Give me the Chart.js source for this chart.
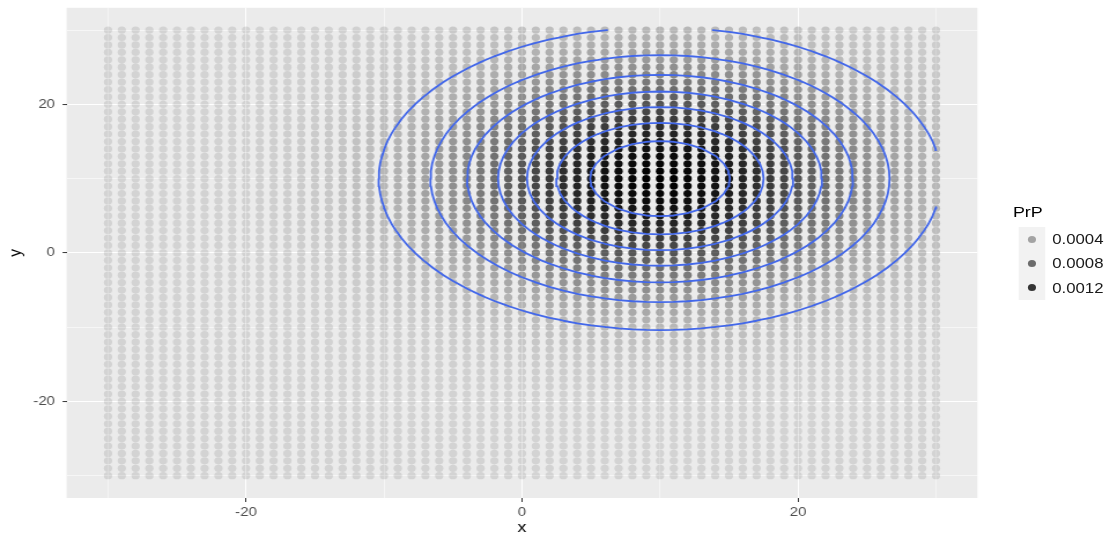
<!DOCTYPE html>
<html>
<head>
<meta charset="utf-8">
<title>PrP</title>
<script src="https://cdn.jsdelivr.net/npm/chart.js@4.4.1/dist/chart.umd.min.js"></script>
<style>
  html, body { margin: 0; padding: 0; background: #ffffff; overflow: hidden; }
  /* the plot is laid out 960 wide and stretched out to the 1110 px window */
  #stage { position: absolute; left: 0; top: 0; width: 960px; height: 536px;
           transform: scaleX(1.15625); transform-origin: 0 0; }
  #chart { position: absolute; left: 0; top: 0; width: 960px; height: 536px; }
  #legend { position: absolute; left: 0; top: 0; font-family: "Liberation Sans", Arial, sans-serif; }
  .lg-title { position: absolute; left: 876px; top: 203px; font-size: 15.5px; line-height: 18px; color: #000; }
  .lg-key { position: absolute; left: 881px; width: 22.5px; height: 24.3px; background: #f2f2f2; }
  .lg-dot { position: absolute; left: 7.65px; top: 8.55px; width: 7.2px; height: 7.2px; border-radius: 50%; }
  .lg-label { position: absolute; left: 910px; font-size: 14.5px; line-height: 24.3px; color: #1a1a1a; }
</style>
</head>
<body>
<div id="stage">
  <canvas id="chart" width="960" height="536"></canvas>
  <div id="legend"></div>
</div>
<script>
// grid of evaluation points
const gridX = [-30, -29, -28, -27, -26, -25, -24, -23, -22, -21, -20, -19, -18, -17, -16, -15, -14, -13, -12, -11,
  -10, -9, -8, -7, -6, -5, -4, -3, -2, -1, 0, 1, 2, 3, 4, 5, 6, 7, 8, 9, 10, 11, 12, 13, 14, 15, 16, 17, 18, 19,
  20, 21, 22, 23, 24, 25, 26, 27, 28, 29, 30];
const gridY = [-30, -29, -28, -27, -26, -25, -24, -23, -22, -21, -20, -19, -18, -17, -16, -15, -14, -13, -12, -11,
  -10, -9, -8, -7, -6, -5, -4, -3, -2, -1, 0, 1, 2, 3, 4, 5, 6, 7, 8, 9, 10, 11, 12, 13, 14, 15, 16, 17, 18, 19,
  20, 21, 22, 23, 24, 25, 26, 27, 28, 29, 30];

// marginal densities along each axis (peak at 10); PrP = densityX * densityY
const densityX = [0.0000134, 0.0000199, 0.0000292, 0.0000425, 0.0000612, 0.0000873, 0.000123, 0.000172, 0.000238, 0.000327,
  0.000443, 0.000595, 0.000792, 0.001042, 0.001358, 0.001753, 0.002239, 0.002833, 0.003547, 0.004398,
  0.005399, 0.006562, 0.007895, 0.009405, 0.011092, 0.012952, 0.014973, 0.017137, 0.019419, 0.021785,
  0.024197, 0.026609, 0.028969, 0.031225, 0.033322, 0.035207, 0.036827, 0.038139, 0.039104, 0.039695,
  0.039894, 0.039695, 0.039104, 0.038139, 0.036827, 0.035207, 0.033322, 0.031225, 0.028969, 0.026609,
  0.024197, 0.021785, 0.019419, 0.017137, 0.014973, 0.012952, 0.011092, 0.009405, 0.007895, 0.006562, 0.005399];
const densityY = [0.0000134, 0.0000199, 0.0000292, 0.0000425, 0.0000612, 0.0000873, 0.000123, 0.000172, 0.000238, 0.000327,
  0.000443, 0.000595, 0.000792, 0.001042, 0.001358, 0.001753, 0.002239, 0.002833, 0.003547, 0.004398,
  0.005399, 0.006562, 0.007895, 0.009405, 0.011092, 0.012952, 0.014973, 0.017137, 0.019419, 0.021785,
  0.024197, 0.026609, 0.028969, 0.031225, 0.033322, 0.035207, 0.036827, 0.038139, 0.039104, 0.039695,
  0.039894, 0.039695, 0.039104, 0.038139, 0.036827, 0.035207, 0.033322, 0.031225, 0.028969, 0.026609,
  0.024197, 0.021785, 0.019419, 0.017137, 0.014973, 0.012952, 0.011092, 0.009405, 0.007895, 0.006562, 0.005399];

const contourLevels = [0.0002, 0.0004, 0.0006, 0.0008, 0.0010, 0.0012, 0.0014];
const legendBreaks = [0.0004, 0.0008, 0.0012];
const legendLabels = ['0.0004', '0.0008', '0.0012'];
const xBreaks = [-20, 0, 20];
const yBreaks = [-20, 0, 20];
const xMinor = [-30, -10, 10, 30];
const yMinor = [-30, -10, 10, 30];

const FONT = '"Liberation Sans", Arial, sans-serif';

// PrP table, rows along y
const prp = gridY.map((_, j) => gridX.map((_, i) => densityX[i] * densityY[j]));
const flat = prp.flat();
const pMin = Math.min(...flat);
const pMax = Math.max(...flat);

// alpha scale 0.1 .. 1 over the data range
function alphaFor(p) {
  return 0.1 + 0.9 * (p - pMin) / (pMax - pMin);
}

const points = [];
const pointColors = [];
gridY.forEach((y, j) => {
  gridX.forEach((x, i) => {
    points.push({ x, y });
    pointColors.push('rgba(0,0,0,' + alphaFor(prp[j][i]).toFixed(3) + ')');
  });
});

// iso lines on the grid cells (marching squares), segments split by gaps
function contourSegments(level) {
  const out = [];
  for (let j = 0; j < gridY.length - 1; j++) {
    for (let i = 0; i < gridX.length - 1; i++) {
      const c = [
        [gridX[i], gridY[j], prp[j][i]],
        [gridX[i + 1], gridY[j], prp[j][i + 1]],
        [gridX[i + 1], gridY[j + 1], prp[j + 1][i + 1]],
        [gridX[i], gridY[j + 1], prp[j + 1][i]]
      ];
      const hits = [];
      for (let e = 0; e < 4; e++) {
        const a = c[e], b = c[(e + 1) % 4];
        if ((a[2] < level) !== (b[2] < level)) {
          const t = (level - a[2]) / (b[2] - a[2]);
          hits.push({ x: a[0] + t * (b[0] - a[0]), y: a[1] + t * (b[1] - a[1]) });
        }
      }
      for (let h = 0; h + 1 < hits.length; h += 2) {
        out.push(hits[h], hits[h + 1], { x: null, y: null });
      }
    }
  }
  return out;
}

const contourSets = contourLevels.map(level => ({
  label: 'level ' + level,
  data: contourSegments(level),
  showLine: true,
  spanGaps: false,
  borderColor: '#4368ea',
  borderWidth: 1.8,
  borderCapStyle: 'round',
  pointRadius: 0,
  tension: 0,
  order: 0
}));

const panelBackground = {
  id: 'panelBackground',
  beforeDraw(chart) {
    const { ctx, chartArea: a } = chart;
    ctx.save();
    ctx.fillStyle = '#ebebeb';
    ctx.fillRect(a.left, a.top, a.right - a.left, a.bottom - a.top);
    ctx.restore();
  }
};

function axisOptions(breaks, minor, title, isX) {
  const all = breaks.concat(minor).sort((a, b) => a - b);
  return {
    type: 'linear',
    position: isX ? 'bottom' : 'left',
    min: -33,
    max: 33,
    afterFit: s => {
      // fixed axis box, no extra room for end labels
      if (isX) s.height = 38.0; else s.width = 57.6;
      s.paddingTop = 0; s.paddingBottom = 0; s.paddingLeft = 0; s.paddingRight = 0;
    },
    afterBuildTicks: s => { s.ticks = all.map(v => ({ value: v })); },
    ticks: {
      autoSkip: false,
      maxRotation: 0,
      padding: isX ? 3 : 6.5,
      color: '#4d4d4d',
      font: { family: FONT, size: 13 },
      callback: v => breaks.includes(v) ? String(v) : ''
    },
    grid: {
      color: '#ffffff',
      lineWidth: c => breaks.includes(c.tick.value) ? (isX ? 1.0 : 1.1) : (isX ? 0.5 : 0.55),
      drawTicks: true,
      tickLength: isX ? 4 : 3.5,
      tickWidth: 1,
      tickColor: c => breaks.includes(c.tick.value) ? '#333333' : 'rgba(0,0,0,0)'
    },
    border: { display: false },
    title: {
      display: true,
      text: title,
      color: '#000000',
      font: { family: FONT, size: 15.5 },
      padding: isX ? { top: 0, bottom: -1.5 } : { top: 4.2, bottom: 0 }
    }
  };
}

new Chart(document.getElementById('chart'), {
  type: 'scatter',
  data: {
    datasets: contourSets.concat([{
      label: 'PrP',
      data: points,
      pointRadius: 3.6,
      pointHoverRadius: 3.6,
      pointBorderWidth: 0,
      pointBackgroundColor: pointColors,
      order: 1
    }])
  },
  options: {
    responsive: false,
    animation: false,
    events: [],
    layout: { padding: { left: 0, right: 114.7, top: 7.8, bottom: 0 } },
    plugins: { legend: { display: false }, tooltip: { enabled: false } },
    scales: {
      x: axisOptions(xBreaks, xMinor, 'x', true),
      y: axisOptions(yBreaks, yMinor, 'y', false)
    }
  },
  plugins: [panelBackground]
});

// alpha legend
const legendEl = document.getElementById('legend');
const titleEl = document.createElement('div');
titleEl.className = 'lg-title';
titleEl.textContent = 'PrP';
legendEl.appendChild(titleEl);
legendBreaks.forEach((b, k) => {
  const top = 227 + k * 24.3;
  const key = document.createElement('div');
  key.className = 'lg-key';
  key.style.top = top + 'px';
  const dot = document.createElement('div');
  dot.className = 'lg-dot';
  dot.style.background = 'rgba(0,0,0,' + alphaFor(b).toFixed(3) + ')';
  key.appendChild(dot);
  legendEl.appendChild(key);
  const lab = document.createElement('div');
  lab.className = 'lg-label';
  lab.style.top = top + 'px';
  lab.textContent = legendLabels[k];
  legendEl.appendChild(lab);
});
</script>
</body>
</html>
